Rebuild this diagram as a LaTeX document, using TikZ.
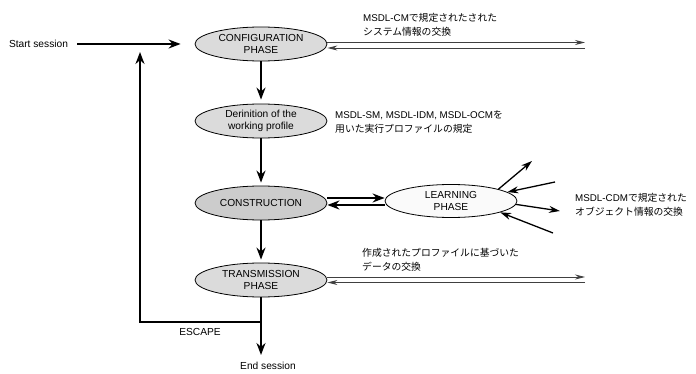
\documentclass[tikz,border=0pt]{standalone}
\usepackage{fontspec}
\setmainfont{Liberation Sans}
\newfontfamily\jp{Noto Sans CJK JP}
\usetikzlibrary{arrows.meta,shapes.geometric}
\begin{document}
\begin{tikzpicture}[x=1pt,y=-1pt,
  phase/.style={ellipse,draw,line width=0.8pt,minimum width=132pt,minimum height=34pt,
    inner sep=0pt,align=center,font=\fontsize{10.2}{12}\selectfont},
  lbl/.style={inner sep=0pt,font=\fontsize{10.2}{12}\selectfont},
  note/.style={inner sep=0pt,anchor=west,align=left,font=\fontsize{9.8}{14}\selectfont},
  thickarr/.style={line width=1.9pt,-{Stealth[length=12pt,width=9pt]}},
  midarr/.style={line width=1.3pt,-{Stealth[length=11pt,width=7pt]}},
  thinarr/.style={line width=0.9pt,black!75,-{Stealth[length=10pt,width=5pt]}}]
\useasboundingbox (0,0) rectangle (696,374);

% phases
\node[phase,fill=gray!28] (cfg) at (261,44) {CONFIGURATION\\PHASE};
\node[phase,fill=gray!28] (def) at (261,121) {Derinition of the\\working profile};
\node[phase,fill=gray!40] (con) at (261,203) {CONSTRUCTION};
\node[phase,fill=gray!28] (trans) at (261,280) {TRANSMISSION\\PHASE};
\node[phase,fill=gray!4,minimum height=33pt] (lrn) at (451,201) {LEARNING\\PHASE};

% labels
\node[lbl] (start) at (38.5,44) {Start session};
\node[lbl] (endn) at (268,366) {End session};
\node[lbl] (esc) at (200,332) {ESCAPE};

% notes
\node[note] (n1) at (363,25) {MSDL-CM{\jp で規定されたされた}\\{\jp システム情報の交換}};
\node[note] (n2) at (335,122.5) {MSDL-SM, MSDL-IDM, MSDL-OCM{\jp を}\\{\jp 用いた実行プロファイルの規定}};
\node[note] (n3) at (575,205) {MSDL-CDM{\jp で規定された}\\{\jp オブジェクト情報の交換}};
\node[note] (n4) at (362,260) {{\jp 作成されたプロファイルに基づいた}\\{\jp データの交換}};

% coordinates
\coordinate (cfgU) at (585,42.5);
\coordinate (cfgL) at (585,48);
\coordinate (trU) at (585,277);
\coordinate (trL) at (585,282.5);
\coordinate (clU) at (356,198);
\coordinate (clL) at (356,205);
\coordinate (escJ) at (261,322);
\coordinate (loopTop) at (140,52);
\coordinate (endTip) at (261,355);
\coordinate (o1) at (532,161);
\coordinate (i2) at (555,182);
\coordinate (o3) at (560,211);
\coordinate (i4) at (553,233);

% main flow
\draw[thickarr,shorten <=9pt,shorten >=14pt] (start.east) -- (cfg.west);
\draw[thickarr,shorten >=4pt] (cfg) -- (def);
\draw[thickarr,shorten >=3pt] (def) -- (con);
\draw[thickarr,shorten >=3pt] (con) -- (trans);
\draw[thickarr] (trans.south) -- (endTip);
\draw[thickarr] (escJ) -| (loopTop);

% exchanges
\draw[thinarr] (cfg.east |- cfgU) -- (cfgU);
\draw[thinarr] (cfgL) -- (cfg.east |- cfgL);
\draw[thinarr] (trans.east |- trU) -- (trU);
\draw[thinarr] (trL) -- (trans.east |- trL);
\draw[thickarr] (con.east |- clU) -- (lrn.west |- clU);
\draw[thickarr] (lrn.west |- clL) -- (con.east |- clL);

% learning arrows
\draw[midarr] (lrn.14) -- (o1);
\draw[midarr] (i2) -- (lrn.9);
\draw[midarr] (lrn.-3) -- (o3);
\draw[midarr] (i4) -- (lrn.-13);
\end{tikzpicture}
\end{document}
